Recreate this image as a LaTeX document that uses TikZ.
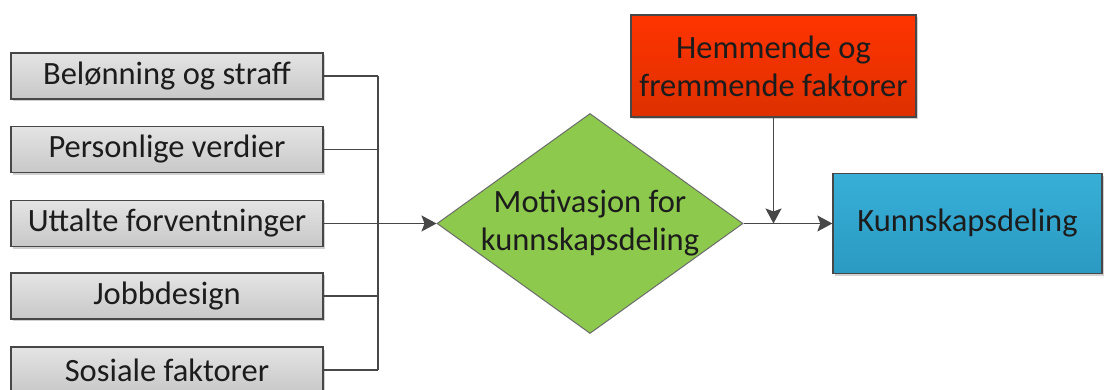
\documentclass[tikz,border=0pt]{standalone}
\usepackage{fontspec}
\setmainfont{Carlito}
\usetikzlibrary{shapes.geometric,arrows.meta,shadows}
\definecolor{lineg}{HTML}{474747}
\definecolor{greytop}{HTML}{E4E4E4}
\definecolor{greybot}{HTML}{C8C8C8}
\definecolor{redtop}{HTML}{FF3400}
\definecolor{redbot}{HTML}{DD3000}
\definecolor{bluetop}{HTML}{37AFD7}
\definecolor{bluebot}{HTML}{2B9AC2}
\definecolor{greenf}{HTML}{8DC94C}
\definecolor{txt}{HTML}{1C1C1C}
\begin{document}
\begin{tikzpicture}[x=1pt,y=1pt,
  every node/.style={font=\fontsize{32.5}{38}\selectfont, text=txt},
  shade/.style={drop shadow={shadow xshift=2pt,shadow yshift=-2.5pt,fill=black,opacity=0.18}},
  factor/.style={rectangle, draw=lineg, line width=1.3pt, top color=greytop, bottom color=greybot,
    minimum width=312pt, minimum height=46pt, inner sep=0pt, shade},
  hinder/.style={rectangle, draw=lineg, line width=1.3pt, top color=redtop, bottom color=redbot,
    minimum width=285pt, minimum height=102pt, inner sep=0pt, align=center, shade},
  result/.style={rectangle, draw=lineg, line width=1.3pt, top color=bluetop, bottom color=bluebot,
    minimum width=269pt, minimum height=100pt, inner sep=0pt, shade},
  decision/.style={diamond, draw=lineg!80, line width=1pt, fill=greenf,
    minimum width=306pt, minimum height=220pt, inner sep=0pt},
  conn/.style={draw=lineg, line width=1.3pt},
  arr/.style={conn, -{Stealth[length=15pt,width=16pt,inset=3pt]}}
]
\clip (0,0) rectangle (1104,-390);
\fill[white] (0,0) rectangle (1104,-390);

\node[factor] (b1) at (167,-76) {Belønning og straff};
\node[factor] (b2) at (167,-149.5) {Personlige verdier};
\node[factor] (b3) at (167,-223.5) {Uttalte forventninger};
\node[factor] (b4) at (167,-296) {Jobbdesign};
\node[factor] (b5) at (167,-370) {Sosiale faktorer};

\node[decision] (mot) at (590,-223.5) {};
\node[align=center] (mottext) at (mot.center) {Motivasjon for\\kunnskapsdeling};

\node[hinder] (hem) at (773.5,-66) {Hemmende og\\fremmende faktorer};
\node[result] (kd) at (967.5,-223.5) {Kunnskapsdeling};

\coordinate (bus) at (378,0);

\foreach \b in {b1,b2,b4,b5} \draw[conn] (\b.east) -- (\b.east -| bus);
\draw[conn] (b1.east -| bus) -- (b5.east -| bus);
\draw[arr] (b3.east) -- (mot.west);

\draw[arr] (hem.south) -- (hem.south |- mot.east);
\draw[arr] (mot.east) -- (kd.west);
\end{tikzpicture}
\end{document}
